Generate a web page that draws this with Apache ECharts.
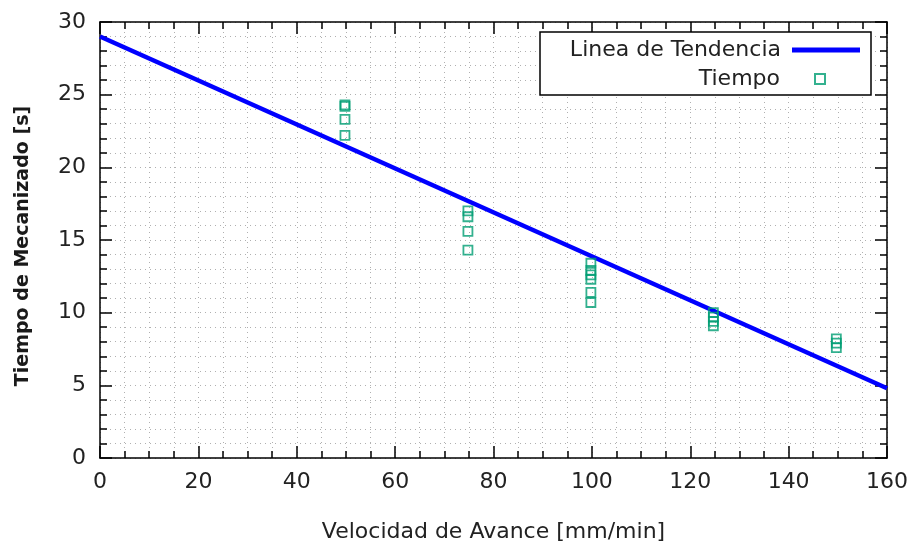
<!DOCTYPE html>
<html>
<head>
<meta charset="utf-8">
<script src="https://cdn.jsdelivr.net/npm/echarts@6/dist/echarts.min.js"></script>
<style>
  html, body { margin: 0; padding: 0; background: #fff; }
  #chart { width: 910px; height: 546px; }
</style>
</head>
<body>
<div id="chart"></div>
<script>
// data
var trendX = [0, 160];
var trendY = [29.0, 4.8];
var speeds = [49.8, 74.8, 99.8, 124.7, 149.7];
var tiempos = [
    [24.3, 24.2, 23.3, 22.2],
    [17.0, 16.6, 15.6, 14.3],
    [13.4, 12.9, 12.6, 12.3, 11.4, 10.7],
    [10.0, 9.7, 9.4, 9.1],
    [8.2, 7.9, 7.6]
];

var font = 'DejaVu Sans';
var green = '#009e73';
var gridDots = { show: true, lineStyle: { color: '#b0b0b0', type: [1, 4], width: 1 } };

function trendData() {
    return trendX.map(function (x, i) { return [x, trendY[i]]; });
}

function scatterData() {
    var out = [];
    speeds.forEach(function (x, i) {
        tiempos[i].forEach(function (y) { out.push([x, y]); });
    });
    return out;
}

function axisBase(extra) {
    var a = {
        type: 'value',
        axisLine: { show: true, onZero: false, lineStyle: { color: '#000', width: 1.5 } },
        axisTick: { show: true, inside: true, length: 12, lineStyle: { color: '#000', width: 1.5 } },
        splitLine: gridDots,
        minorSplitLine: gridDots
    };
    for (var k in extra) a[k] = extra[k];
    return a;
}

var option = {
    animation: false,
    backgroundColor: '#fff',
    grid: { left: 100, right: 23, top: 22, bottom: 88, containLabel: false, outerBoundsMode: 'none' },
    xAxis: [
        axisBase({
            min: 0, max: 160, interval: 20,
            minorTick: { show: true, splitNumber: 4, length: 7, lineStyle: { color: '#000', width: 1.5 } },
            name: 'Velocidad de Avance [mm/min]',
            nameLocation: 'middle', nameGap: 63,
            nameTextStyle: { fontFamily: font, fontSize: 22, color: '#222' },
            axisLabel: { fontFamily: font, fontSize: 22, color: '#222', margin: 13 }
        }),
        axisBase({
            position: 'top',
            min: 0, max: 160, interval: 20,
            minorTick: { show: true, splitNumber: 4, length: 7, lineStyle: { color: '#000', width: 1.5 } },
            splitLine: { show: false }, minorSplitLine: { show: false },
            axisLabel: { show: false }
        })
    ],
    yAxis: [
        axisBase({
            min: 0, max: 30, interval: 5,
            minorTick: { show: true, splitNumber: 5, length: 7, lineStyle: { color: '#000', width: 1.5 } },
            name: 'Tiempo de Mecanizado [s]',
            nameLocation: 'middle', nameGap: 67,
            nameTextStyle: { fontFamily: font, fontSize: 19, fontWeight: 'bold', color: '#1a1a1a', padding: [0, 12, 0, 0] },
            axisLabel: { fontFamily: font, fontSize: 22, color: '#222', margin: 14 }
        }),
        axisBase({
            position: 'right',
            min: 0, max: 30, interval: 5,
            minorTick: { show: true, splitNumber: 5, length: 7, lineStyle: { color: '#000', width: 1.5 } },
            splitLine: { show: false }, minorSplitLine: { show: false },
            axisLabel: { show: false }
        })
    ],
    legend: [
        {
            data: [{ name: 'Linea de Tendencia', icon: 'rect' }],
            orient: 'vertical', align: 'right',
            right: 45, top: 34,
            itemWidth: 68, itemHeight: 5, itemGap: 0,
            textStyle: { fontFamily: font, fontSize: 22, color: '#222', padding: [0, 6, 0, 0] },
            z: 10
        },
        {
            data: ['Tiempo'],
            orient: 'vertical', align: 'right',
            right: 79, top: 63,
            itemWidth: 10, itemHeight: 10,
            textStyle: { fontFamily: font, fontSize: 22, color: '#222', padding: [0, 30, 0, 0] },
            z: 10
        }
    ],
    graphic: [
        {
            type: 'rect', z: 5,
            shape: { x: 540, y: 32, width: 331, height: 63 },
            style: { fill: '#fff', stroke: '#000', lineWidth: 1.5 }
        }
    ],
    series: [
        {
            name: 'Linea de Tendencia',
            type: 'line',
            data: trendData(),
            showSymbol: false,
            symbol: 'none',
            lineStyle: { color: '#0000ff', width: 4.5 },
            itemStyle: { color: '#0000ff' },
            z: 3
        },
        {
            name: 'Tiempo',
            type: 'scatter',
            data: scatterData(),
            symbol: 'rect',
            symbolSize: 9,
            itemStyle: { color: 'rgba(255,255,255,0)', borderColor: green, borderWidth: 1.8 },
            z: 4
        }
    ]
};

var myChart = echarts.init(document.getElementById('chart'));
myChart.setOption(option);
</script>
</body>
</html>
